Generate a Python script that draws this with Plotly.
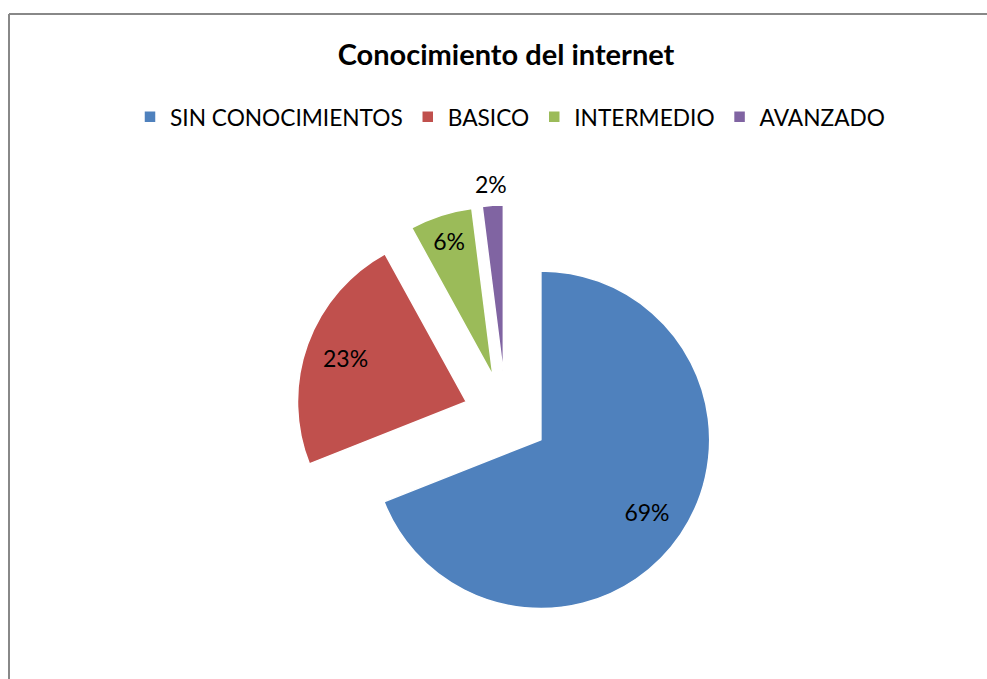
import math
import plotly.graph_objects as go

categories = ["SIN CONOCIMIENTOS", "BASICO", "INTERMEDIO", "AVANZADO"]
values = [69, 23, 6, 2]
colors = ["#4F81BD", "#C0504D", "#9BBB59", "#8064A2"]
pulls = [0.25, 0.25, 0.25, 0.25]
# 6% labelled by the solid pie, 69%/23% by a transparent ring overlay, 2% outside
solid_text = ["", "", "%{percent:.0%}", ""]
ring_text = ["%{percent:.0%}", "%{percent:.0%}", "", ""]

W, H = 987, 679
cx, cy, half = 506, 416, 211
FONT = "Lato, Open Sans, sans-serif"
domain = dict(x=[(cx - half) / W, (cx + half) / W],
              y=[1 - (cy + half) / H, 1 - (cy - half) / H])

fig = go.Figure()
fig.add_trace(go.Pie(
    labels=categories, values=values, sort=False, direction="clockwise",
    rotation=0, pull=pulls,
    marker=dict(colors=colors, line=dict(color="white", width=1.5)),
    texttemplate=solid_text, textposition="inside",
    insidetextorientation="horizontal",
    textfont=dict(family=FONT, size=23, color="black"),
    domain=domain, hoverinfo="label+percent",
))
fig.add_trace(go.Pie(
    labels=categories, values=values, sort=False, direction="clockwise",
    rotation=0, pull=pulls, hole=0.52, showlegend=False,
    marker=dict(colors=["rgba(0,0,0,0)"] * 4, line=dict(width=0)),
    texttemplate=ring_text, textposition="inside",
    insidetextorientation="horizontal",
    textfont=dict(family=FONT, size=23, color="black"),
    domain=domain, hoverinfo="skip",
))

# outside label for the last (smallest) slice, placed from the pie geometry
total = sum(values)
r = half / (1 + max(pulls))
i = len(values) - 1
mid = 2 * math.pi * (sum(values[:i]) + values[i] / 2) / total
dist = r * pulls[i] + r + 21
lx = cx + dist * math.sin(mid)
ly = cy - dist * math.cos(mid)

top = 1 - 14 / H
fig.update_layout(
    width=W, height=H, autosize=False,
    margin=dict(l=0, r=0, t=0, b=0, autoexpand=False),
    paper_bgcolor="white",
    plot_bgcolor="white",
    title=dict(text="<b>Conocimiento del internet</b>",
               x=506 / W, xanchor="center", y=1 - 55 / H, yanchor="middle",
               font=dict(family=FONT, size=29, color="black")),
    legend=dict(orientation="h", x=510 / W, xanchor="center",
                y=1 - 117 / H, yanchor="middle",
                font=dict(family=FONT, size=22.7, color="black"),
                itemclick=False),
    annotations=[dict(text=f"{round(100 * values[i] / total)}%",
                      xref="paper", yref="paper", x=lx / W, y=1 - ly / H,
                      xanchor="center", yanchor="middle", showarrow=False,
                      font=dict(family=FONT, size=23, color="black"))],
    shapes=[dict(type="line", xref="paper", yref="paper",
                 x0=9 / W, x1=1.0, y0=top, y1=top,
                 line=dict(color="#888888", width=2)),
            dict(type="line", xref="paper", yref="paper",
                 x0=9 / W, x1=9 / W, y0=0, y1=top,
                 line=dict(color="#888888", width=2))],
)

fig.write_html(
    "out.html",
    config={"displayModeBar": False},
    post_script="document.body.style.margin='0';document.body.style.overflow='hidden';",
)
